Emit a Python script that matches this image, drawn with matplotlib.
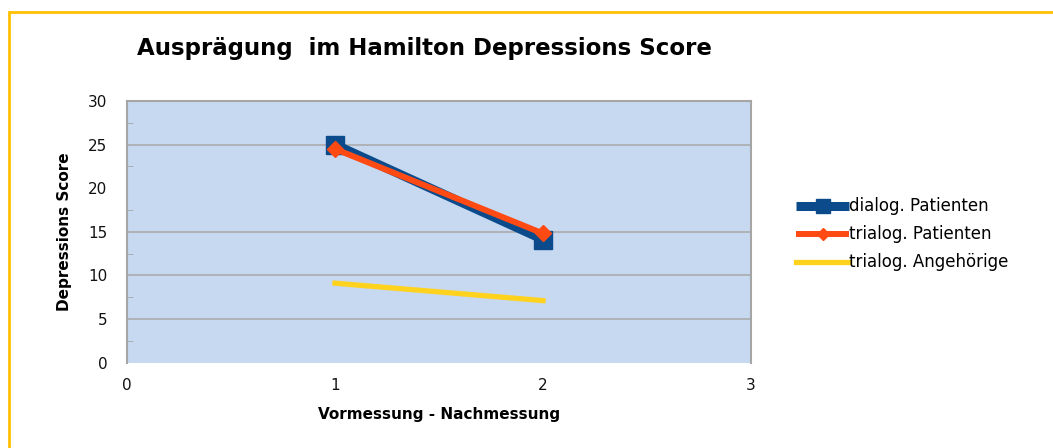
import matplotlib
matplotlib.use("Agg")
import matplotlib.pyplot as plt
from matplotlib.patches import Rectangle

# Measurement points and scores
x_points = [1, 2]
dialog_patienten = [25.0, 14.1]
trialog_patienten = [24.5, 14.8]
trialog_angehoerige = [9.1, 7.1]

series_labels = ["dialog. Patienten", "trialog. Patienten", "trialog. Angehörige"]
x_ticks = [0, 1, 2, 3]
y_ticks = [0, 5, 10, 15, 20, 25, 30]
grid_values = [5, 10, 15, 25]

title = "Ausprägung  im Hamilton Depressions Score"
x_label = "Vormessung - Nachmessung"
y_label = "Depressions Score"

W, H, DPI = 1053, 448, 100
fig = plt.figure(figsize=(W / DPI, H / DPI), dpi=DPI)
fig.patch.set_facecolor("white")

# Chart-area border (runs off the right and bottom edges)
fig.patches.append(Rectangle((9 / W, -0.1), 1.2, (H - 12) / H + 0.1,
                             transform=fig.transFigure, fill=False,
                             edgecolor="#FFC000", linewidth=2, zorder=0))

ax = fig.add_axes([127 / W, (H - 362.5) / H, (751 - 127) / W, (362.5 - 101) / H])
ax.set_facecolor("#C6D9F0")
ax.set_xlim(0, 3)
ax.set_ylim(0, 30)

for g in grid_values:
    ax.axhline(g, color="#ABABAB", linewidth=1.2, zorder=1)

for side in ["left", "right", "top"]:
    ax.spines[side].set_color("#A6A6A6")
    ax.spines[side].set_linewidth(1.5)
ax.spines["bottom"].set_visible(False)

ax.plot(x_points, dialog_patienten, color="#0B4A8B", linewidth=6.5,
        marker="s", markersize=13, label=series_labels[0], zorder=3,
        solid_capstyle="butt")
ax.plot(x_points, trialog_patienten, color="#FF4A14", linewidth=4.3,
        marker="D", markersize=8, label=series_labels[1], zorder=4,
        solid_capstyle="butt")
ax.plot(x_points, trialog_angehoerige, color="#FFD21E", linewidth=3.8,
        label=series_labels[2], zorder=3, solid_capstyle="projecting")

ax.set_xticks(x_ticks)
ax.set_yticks(y_ticks)
ax.set_yticks([2.5, 7.5, 12.5, 17.5, 22.5, 27.5], minor=True)
ax.set_xticks([1], minor=True)
ax.tick_params(axis="both", which="major", length=0, labelsize=11,
               labelcolor="#111111")
ax.tick_params(axis="y", which="major", pad=14)
ax.tick_params(axis="x", which="major", pad=11)
ax.tick_params(axis="y", which="minor", direction="in", length=4,
               color="#A6A6A6")
ax.tick_params(axis="x", which="minor", direction="in", length=4,
               color="#A6A6A6")

ax.set_xlabel(x_label, fontsize=11, fontweight="bold", labelpad=10)
ax.set_ylabel(y_label, fontsize=11, fontweight="bold", labelpad=12)

fig.text(424 / W, 1 - 48 / H, title, fontsize=16.5, fontweight="bold",
         ha="center", va="center")

leg = ax.legend(loc="center left", bbox_to_anchor=(1.048, 0.49), frameon=False,
                fontsize=12, handlelength=3.2, handletextpad=0.0,
                labelspacing=0.6, markerscale=0.8)

fig.savefig("out.png", dpi=DPI)
